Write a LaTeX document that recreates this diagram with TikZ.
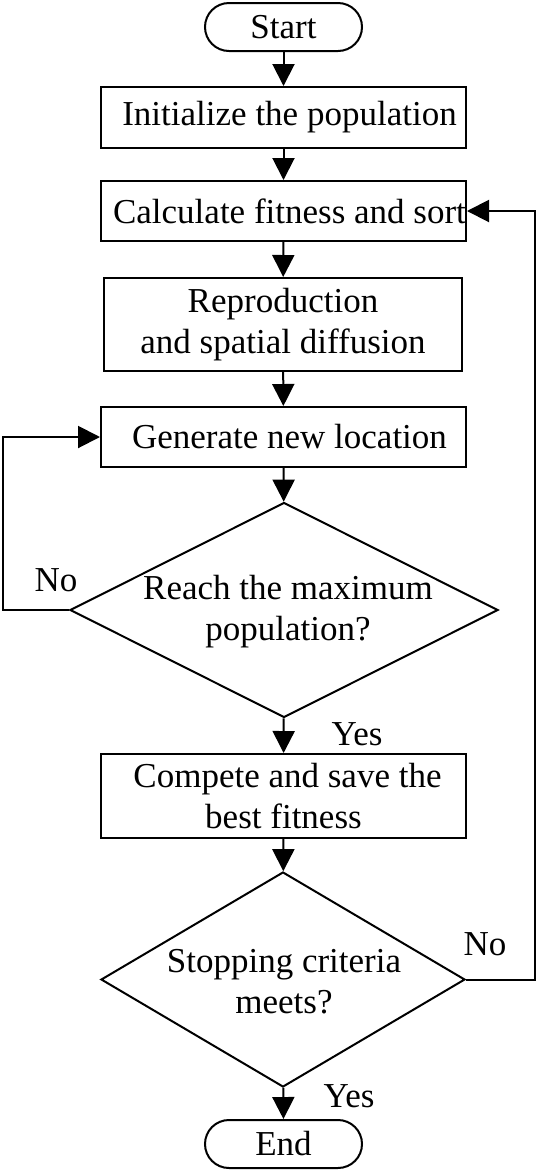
\documentclass[tikz,border=0pt]{standalone}
\usepackage{fontspec}
\setmainfont{Liberation Serif}
\usetikzlibrary{shapes.geometric,arrows.meta}
\begin{document}
\begin{tikzpicture}[x=1pt,y=-1pt,
  every node/.style={font=\fontsize{35}{41}\selectfont, inner sep=0pt},
  box/.style={draw, line width=2pt, rectangle, minimum width=365pt, align=center},
  term/.style={draw, line width=2pt, rectangle, rounded corners=24pt, minimum width=157pt, minimum height=48pt},
  dia/.style={draw, line width=2pt, diamond},
  lbl/.style={align=center},
  flow/.style={line width=2pt, -{Triangle[width=22pt,length=22pt]}}
]
\useasboundingbox (0,0) rectangle (538,1171);

\node[term] (start) at (283.5,27) {Start};
\node[box, minimum height=61pt] (init) at (283.5,117.5) {\hspace*{12pt}Initialize the population};
\node[box, minimum height=60pt] (calc) at (283.5,211) {\hspace*{12pt}Calculate fitness and sort};
\node[box, minimum width=358pt, minimum height=93pt] (repr) at (283,324.5) {Reproduction\\and spatial diffusion};
\node[box, minimum height=60pt] (gen) at (283.5,437) {\hspace*{12pt}Generate new location};
\node[dia, minimum width=428pt, minimum height=215pt] (d1) at (284,610) {};
\node[lbl] (t1) at (288,612) {Reach the maximum\\population?};
\node[box, minimum height=84pt] (comp) at (283.5,796) {\hspace*{8pt}Compete and save the\\best fitness};
\node[dia, minimum width=364pt, minimum height=215pt] (d2) at (283,979.5) {};
\node[lbl] (t2) at (284,982) {Stopping criteria\\meets?};
\node[term] (end) at (283.5,1144) {End};

\node (no1) at (56,580) {No};
\node (yes1) at (357,734) {Yes};
\node (no2) at (485,944) {No};
\node (yes2) at (349,1096) {Yes};

\coordinate (l1) at (3,610);
\coordinate (r1) at (535,979.5);

\draw[flow] (start) -- (init);
\draw[flow] (init) -- (calc);
\draw[flow] (calc) -- (repr);
\draw[flow] (repr) -- (gen);
\draw[flow] (gen) -- (d1);
\draw[flow] (d1) -- (comp);
\draw[flow] (comp) -- (d2);
\draw[flow] (d2) -- (end);
\draw[flow] (d1.west) -- (l1) |- (gen.west);
\draw[flow] (d2.east) -- (r1) |- (calc.east);
\end{tikzpicture}
\end{document}
